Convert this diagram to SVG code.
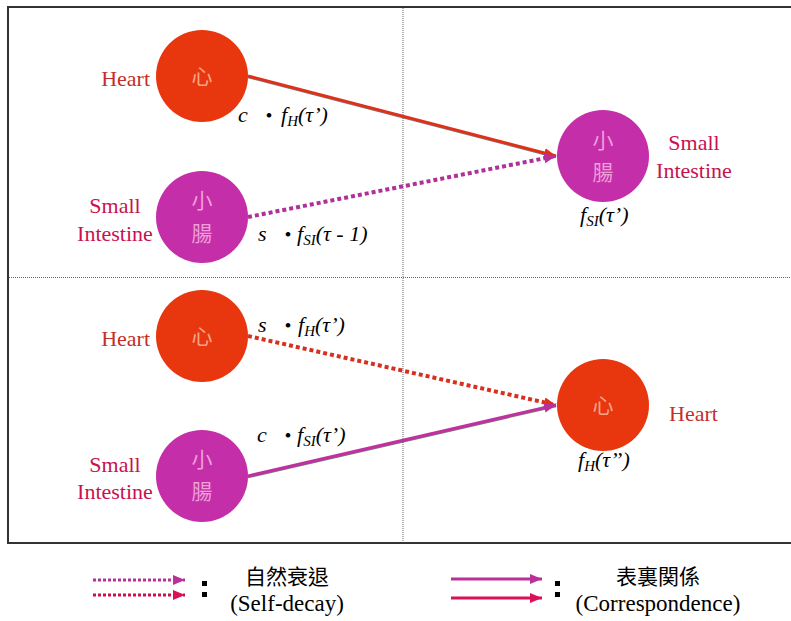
<svg xmlns="http://www.w3.org/2000/svg" width="791" height="621" viewBox="0 0 791 621">
<defs>
<style>
.lbl{font-family:"Liberation Serif","Times New Roman",serif;font-size:22px}
.hl{fill:#C3302A}
.sl{fill:#C8124E}
.fm{font-family:"Liberation Serif","Times New Roman",serif;font-size:22px;font-style:italic;fill:#000}
.sub{font-size:15px}
.dot{font-family:"Noto Sans CJK JP",sans-serif;font-style:normal;font-size:18px;font-weight:700}
.cjk{font-family:"Noto Sans CJK TC","Noto Sans CJK JP",sans-serif;font-size:21px;text-anchor:middle}
.hc{fill:#E8360E}
.sc{fill:#C42EA8}
.frame{fill:none;stroke:#333;stroke-width:2}
.div{stroke:#666;stroke-width:1;stroke-dasharray:1 1}
.leg{font-family:"Noto Sans CJK TC","Noto Sans CJK JP",sans-serif;font-size:21px;font-weight:400;text-anchor:middle;fill:#000}
.legen{font-family:"Liberation Serif","Times New Roman",serif;font-size:23px;text-anchor:middle;fill:#000}
</style>
<marker id="ar" markerUnits="userSpaceOnUse" markerWidth="13" markerHeight="11" refX="12" refY="5" orient="auto"><path d="M0,0 L12,5 L0,10 z" fill="#E0301A"/></marker>
<marker id="ap" markerUnits="userSpaceOnUse" markerWidth="13" markerHeight="11" refX="12" refY="5" orient="auto"><path d="M0,0 L12,5 L0,10 z" fill="#B8309A"/></marker>
<marker id="ac" markerUnits="userSpaceOnUse" markerWidth="13" markerHeight="11" refX="12" refY="5" orient="auto"><path d="M0,0 L12,5 L0,10 z" fill="#DC1058"/></marker>
</defs>
<rect x="0" y="0" width="791" height="621" fill="#fff"/>
<g id="frame">
<line x1="8" y1="7" x2="791" y2="7" class="frame"/>
<line x1="8" y1="543" x2="791" y2="543" class="frame"/>
<line x1="8" y1="6" x2="8" y2="544" class="frame"/>
<line x1="403" y1="8" x2="403" y2="542" class="div"/>
<line x1="9" y1="277.5" x2="791" y2="277.5" class="div"/>
</g>
<g id="connectors">
<line x1="248" y1="77" x2="556" y2="157" stroke="#222" stroke-width="2.5" opacity="0.6"/>
<line x1="248" y1="76" x2="556" y2="156" stroke="#E0301A" stroke-width="3" marker-end="url(#ar)"/>
<line x1="248" y1="217" x2="556" y2="156" stroke="#B0309A" stroke-width="4" stroke-dasharray="4 3" marker-end="url(#ap)"/>
<line x1="248" y1="336" x2="556" y2="405" stroke="#D83020" stroke-width="4" stroke-dasharray="4 3" marker-end="url(#ar)"/>
<line x1="248" y1="477" x2="556" y2="406" stroke="#222" stroke-width="2.5" opacity="0.6"/>
<line x1="248" y1="476" x2="556" y2="405" stroke="#C030A0" stroke-width="3" marker-end="url(#ap)"/>
</g>
<g id="heart-top">
<circle cx="202" cy="76" r="46" class="hc"/>
<text x="202" y="84" class="cjk" fill="#F7A58A">心</text>
<text x="150" y="86" class="lbl hl" text-anchor="end">Heart</text>
</g>
<g id="si-top">
<circle cx="202" cy="217" r="46" class="sc"/>
<text x="202" y="208" class="cjk" fill="#EFA0D8">小</text>
<text x="202" y="241" class="cjk" fill="#EFA0D8">腸</text>
<text x="115" y="213" class="lbl sl" text-anchor="middle">Small</text>
<text x="115" y="241" class="lbl sl" text-anchor="middle">Intestine</text>
</g>
<g id="si-target">
<circle cx="603" cy="156" r="46" class="sc"/>
<text x="603" y="148" class="cjk" fill="#EFA0D8">小</text>
<text x="603" y="180" class="cjk" fill="#EFA0D8">腸</text>
<text x="694" y="150" class="lbl sl" text-anchor="middle">Small</text>
<text x="694" y="178" class="lbl sl" text-anchor="middle">Intestine</text>
<text x="580" y="222" class="fm">f<tspan class="sub" dy="4">SI</tspan><tspan dy="-4">(τ’)</tspan></text>
</g>
<g id="heart-bottom">
<circle cx="202" cy="336" r="46" class="hc"/>
<text x="202" y="344" class="cjk" fill="#F7A58A">心</text>
<text x="150" y="346" class="lbl hl" text-anchor="end">Heart</text>
</g>
<g id="si-bottom">
<circle cx="202" cy="476" r="46" class="sc"/>
<text x="202" y="467" class="cjk" fill="#EFA0D8">小</text>
<text x="202" y="499" class="cjk" fill="#EFA0D8">腸</text>
<text x="115" y="472" class="lbl sl" text-anchor="middle">Small</text>
<text x="115" y="499" class="lbl sl" text-anchor="middle">Intestine</text>
</g>
<g id="heart-target">
<circle cx="603" cy="405" r="46" class="hc"/>
<text x="603" y="413" class="cjk" fill="#F7A58A">心</text>
<text x="669" y="421" class="lbl hl">Heart</text>
<text x="578" y="467" class="fm">f<tspan class="sub" dy="4">H</tspan><tspan dy="-4">(τ’’)</tspan></text>
</g>
<g id="edge-labels">
<text x="238" y="122" class="fm">c<tspan x="260" class="dot">・</tspan><tspan x="281">f</tspan><tspan class="sub" dy="4">H</tspan><tspan dy="-4">(τ’)</tspan></text>
<text x="258" y="241" class="fm">s<tspan x="279" class="dot">・</tspan><tspan x="297">f</tspan><tspan class="sub" dy="4">SI</tspan><tspan dy="-4">(τ - 1)</tspan></text>
<text x="258" y="332" class="fm">s<tspan x="279" class="dot">・</tspan><tspan x="298">f</tspan><tspan class="sub" dy="4">H</tspan><tspan dy="-4">(τ’)</tspan></text>
<text x="257" y="442" class="fm">c<tspan x="279" class="dot">・</tspan><tspan x="297">f</tspan><tspan class="sub" dy="4">SI</tspan><tspan dy="-4">(τ’)</tspan></text>
</g>
<g id="legend">
<line x1="93" y1="580" x2="185" y2="580" stroke="#B8309A" stroke-width="3" stroke-dasharray="3 2" marker-end="url(#ap)"/>
<line x1="93" y1="595" x2="185" y2="595" stroke="#C8104E" stroke-width="3" stroke-dasharray="3 2" marker-end="url(#ac)"/>
<rect x="202" y="581" width="5" height="5" fill="#000"/>
<rect x="202" y="592" width="5" height="5" fill="#000"/>
<text x="287" y="584" class="leg">自然衰退</text>
<text x="287" y="611" class="legen">(Self-decay)</text>
<line x1="451" y1="579" x2="542" y2="579" stroke="#B8309A" stroke-width="3" marker-end="url(#ap)"/>
<line x1="451" y1="598" x2="542" y2="598" stroke="#DC1058" stroke-width="3" marker-end="url(#ac)"/>
<rect x="555" y="581" width="5" height="5" fill="#000"/>
<rect x="555" y="592" width="5" height="5" fill="#000"/>
<text x="658" y="584" class="leg">表裏関係</text>
<text x="658" y="611" class="legen">(Correspondence)</text>
</g>
</svg>
